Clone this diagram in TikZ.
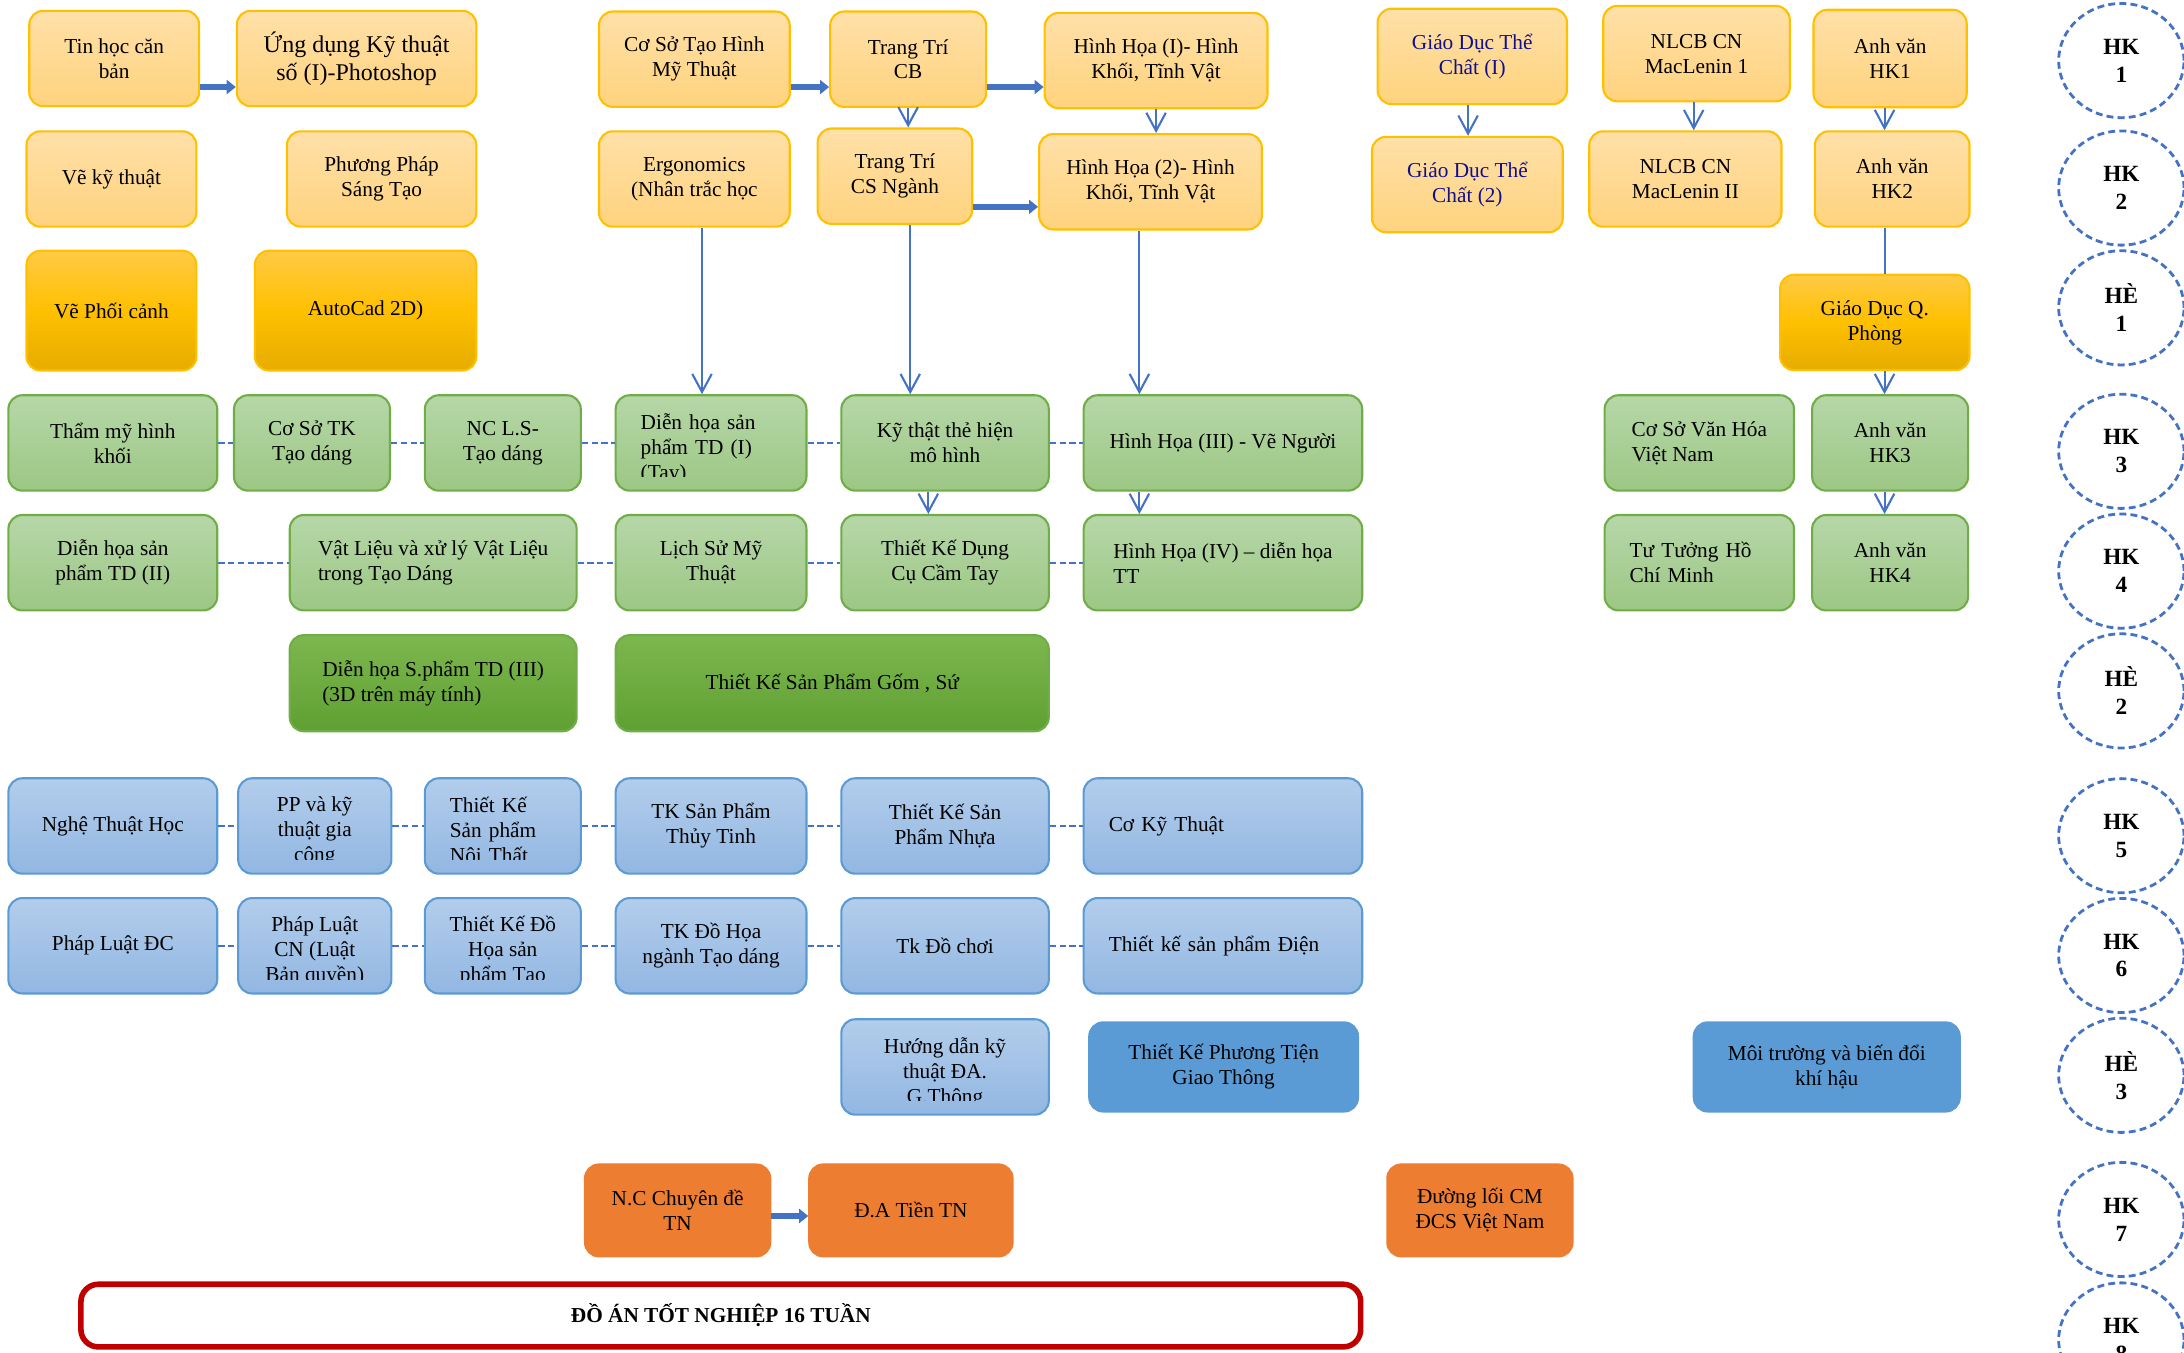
\documentclass[tikz,border=0pt]{standalone}
\usepackage{fontspec}
\setmainfont{Liberation Serif}
\usetikzlibrary{arrows.meta,shapes.geometric}

\definecolor{linkblue}{HTML}{4472C4}
\definecolor{goldline}{HTML}{FFC000}
\definecolor{otop}{HTML}{FFE0A8}
\definecolor{obot}{HTML}{FFD37E}
\definecolor{gtop}{HTML}{FFCA45}
\definecolor{gmid}{HTML}{FFC000}
\definecolor{gbot}{HTML}{E6AC00}
\definecolor{greenline}{HTML}{70AD47}
\definecolor{lgtop}{HTML}{B6D7A8}
\definecolor{lgbot}{HTML}{9CC784}
\definecolor{dgtop}{HTML}{7DB74F}
\definecolor{dgbot}{HTML}{5FA032}
\definecolor{blueline}{HTML}{5B9BD5}
\definecolor{lbtop}{HTML}{B3CDEB}
\definecolor{lbbot}{HTML}{92B7E2}
\definecolor{midblue}{HTML}{5B9BD5}
\definecolor{orangefill}{HTML}{ED7D31}
\definecolor{redline}{HTML}{C00000}
\definecolor{navytext}{HTML}{10108C}

\newcommand{\boxfont}{\fontsize{8.7}{10.2}\selectfont}
\newcommand{\bigboxfont}{\fontsize{9.8}{11.4}\selectfont}
\newcommand{\hkfont}{\fontsize{9.5}{11.4}\selectfont\bfseries}

\tikzset{
  cbox/.style={rounded corners=0.2cm, line width=0.03cm, minimum height=1.37cm, inner sep=1pt, align=center, font=\boxfont},
  obox/.style={cbox, draw=goldline, top color=otop, bottom color=obot},
  gbox/.style={cbox, draw=goldline, top color=gtop, bottom color=gbot, middle color=gmid},
  lgbox/.style={cbox, draw=greenline, top color=lgtop, bottom color=lgbot},
  dgbox/.style={cbox, draw=greenline, top color=dgtop, bottom color=dgbot},
  lbbox/.style={cbox, draw=blueline, top color=lbtop, bottom color=lbbot},
  mbbox/.style={cbox, draw=midblue, fill=midblue},
  orbox/.style={cbox, draw=orangefill, fill=orangefill},
  lbox/.style={align=left, inner xsep=0.36cm},
  cliptext/.style={font=\boxfont, inner sep=0pt, yshift=-0.08cm},
  hk/.style={ellipse, draw=linkblue, line width=0.04cm, dash pattern=on 0.1cm off 0.06cm, minimum width=1.8cm, minimum height=1.64cm, inner sep=0pt, align=center, font=\hkfont},
  barrow/.style={draw=linkblue, line width=0.08cm, -{Triangle[length=0.13cm,width=0.2cm]}},
  varrow/.style={draw=linkblue, line width=0.03cm, -{Straight Barb[length=0.26cm,width=0.28cm]}},
  dlink/.style={draw=linkblue, line width=0.035cm, dash pattern=on 0.09cm off 0.05cm}
}

\begin{document}
\begin{tikzpicture}[x=0.02cm, y=-0.02cm]
\clip (0,0) rectangle (1568,971);
\useasboundingbox (0,0) rectangle (1568,971);

% HK 1
\node[obox, minimum width=2.44cm] (tinhoc) at (82,42) {Tin học căn\\bản};
\node[obox, minimum width=3.44cm, font=\bigboxfont] (ungdung) at (256,42) {Ứng dụng Kỹ thuật\\số (I)-Photoshop};
\node[obox, minimum width=2.74cm] (cosotaohinh) at (498.5,42.5) {Cơ Sở Tạo Hình\\Mỹ Thuật};
\node[obox, minimum width=2.24cm] (trangtricb) at (652,42.5) {Trang Trí\\CB};
\node[obox, minimum width=3.2cm] (hinhhoa1) at (830,43.5) {Hình Họa (I)- Hình\\Khối, Tĩnh Vật};
\node[obox, minimum width=2.72cm, text=navytext] (gdtc1) at (1057,40.5) {Giáo Dục Thể\\Chất (I)};
\node[obox, minimum width=2.68cm] (nlcb1) at (1218,38.5) {NLCB CN\\MacLenin 1};
\node[obox, minimum width=2.2cm, minimum height=1.4cm] (anhvan1) at (1357,42) {Anh văn\\HK1};

% HK 2
\node[obox, minimum width=2.44cm] (vekythuat) at (80,128.5) {Vẽ kỹ thuật};
\node[obox, minimum width=2.72cm] (ppsangtao) at (274,128.5) {Phương Pháp\\Sáng Tạo};
\node[obox, minimum width=2.74cm] (ergonomics) at (498.5,128.5) {Ergonomics\\(Nhân trắc học};
\node[obox, minimum width=2.22cm] (trangtrics) at (642.5,126.5) {Trang Trí\\CS Ngành};
\node[obox, minimum width=3.2cm] (hinhhoa2) at (826,130.5) {Hình Họa (2)- Hình\\Khối, Tĩnh Vật};
\node[obox, minimum width=2.74cm, text=navytext] (gdtc2) at (1053.5,132.5) {Giáo Dục Thể\\Chất (2)};
\node[obox, minimum width=2.76cm] (nlcb2) at (1210,128.5) {NLCB CN\\MacLenin II};
\node[obox, minimum width=2.22cm] (anhvan2) at (1358.5,128.5) {Anh văn\\HK2};

% He 1
\node[gbox, minimum width=2.44cm, minimum height=1.72cm] (vephoicanh) at (80,223) {Vẽ Phối cảnh};
\node[gbox, minimum width=3.18cm, minimum height=1.72cm] (autocad) at (262.5,223) {AutoCad 2D)};
\node[gbox, minimum width=2.72cm] (gdqp) at (1346,231.5) {Giáo Dục Q.\\Phòng};

% HK 3
\node[lgbox, minimum width=3.0cm] (thammy) at (81,318) {Thẩm mỹ hình\\khối};
\node[lgbox, minimum width=2.24cm] (cosotk) at (224,318) {Cơ Sở TK\\Tạo dáng};
\node[lgbox, minimum width=2.24cm] (ncls) at (361,318) {NC L.S-\\Tạo dáng};
\node[lgbox, minimum width=2.74cm] (dienhoa1) at (510.5,318) {};
\node[lgbox, minimum width=2.98cm] (kythat) at (678.5,318) {Kỹ thật thẻ hiện\\mô hình};
\node[lgbox, minimum width=4.0cm] (hinhhoa3) at (878,318) {Hình Họa (III) - Vẽ Người};
\node[lgbox, align=left, minimum width=2.72cm] (cosovanhoa) at (1220,318) {Cơ Sở Văn Hóa\\Việt Nam};
\node[lgbox, minimum width=2.24cm] (anhvan3) at (1357,318) {Anh văn\\HK3};

% HK 4
\node[lgbox, minimum width=3.0cm] (dienhoa2) at (81,404) {Diễn họa sản\\phẩm TD (II)};
\node[lgbox, align=left, minimum width=4.12cm] (vatlieu) at (311,404) {Vật Liệu và xử lý Vật Liệu\\trong Tạo Dáng};
\node[lgbox, minimum width=2.74cm] (lichsu) at (510.5,404) {Lịch Sử Mỹ\\Thuật};
\node[lgbox, minimum width=2.98cm] (tkdungcu) at (678.5,404) {Thiết Kế  Dụng\\Cụ Cầm Tay};
\node[lgbox, align=left, minimum width=4.0cm] (hinhhoa4) at (878,404) {Hình Họa (IV) – diễn họa\\TT};
\node[lgbox, lbox, inner xsep=0.36cm, text width=2.0cm] (tutuong) at (1220,404) {Tư Tưởng Hồ\\Chí Minh};
\node[lgbox, minimum width=2.24cm] (anhvan4) at (1357,404) {Anh văn\\HK4};

% He 2
\node[dgbox, align=left, minimum width=4.12cm, minimum height=1.38cm] (dienhoa3) at (311,490.5) {Diễn họa S.phẩm TD (III)\\(3D trên máy tính)};
\node[dgbox, minimum width=6.22cm, minimum height=1.38cm] (gomsu) at (597.5,490.5) {Thiết Kế Sản Phẩm Gốm , Sứ};

% HK 5
\node[lbbox, minimum width=3.0cm] (nghethuat) at (81,593) {Nghệ Thuật Học};
\node[lbbox, minimum width=2.2cm] (ppkythuat) at (226,593) {};
\node[lbbox, minimum width=2.24cm] (tknoithat) at (361,593) {};
\node[lbbox, minimum width=2.74cm] (tkthuytinh) at (510.5,593) {TK Sản Phẩm\\Thủy Tinh};
\node[lbbox, minimum width=2.98cm] (tknhua) at (678.5,593) {Thiết Kế Sản\\Phẩm Nhựa};
\node[lbbox, lbox, text width=3.28cm] (cokythuat) at (878,593) {Cơ Kỹ Thuật};

% HK 6
\node[lbbox, minimum width=3.0cm] (phapluatdc) at (81,679) {Pháp Luật ĐC};
\node[lbbox, minimum width=2.2cm] (phapluatcn) at (226,679) {};
\node[lbbox, minimum width=2.24cm] (tkdohoa) at (361,679) {};
\node[lbbox, minimum width=2.74cm] (tkdohoanganh) at (510.5,679) {TK Đồ Họa\\ngành Tạo dáng};
\node[lbbox, minimum width=2.98cm] (tkdochoi) at (678.5,679) {Tk Đồ chơi};
\node[lbbox, lbox, text width=3.28cm] (tkdien) at (878,679) {Thiết kế sản phẩm Điện};

% He 3
\node[lbbox, minimum width=2.98cm] (huongdan) at (678.5,766) {};
\node[mbbox, minimum width=3.86cm, minimum height=1.28cm] (phuongtien) at (878.5,766) {Thiết Kế Phương Tiện\\Giao Thông};
\node[mbbox, minimum width=3.82cm, minimum height=1.28cm] (moitruong) at (1311.5,766) {Môi trường và biến đổi\\khí hậu};

% HK 7
\node[orbox, minimum width=2.66cm, minimum height=1.32cm] (ncchuyende) at (486.5,869) {N.C Chuyên đề\\TN};
\node[orbox, minimum width=2.92cm, minimum height=1.32cm] (datien) at (654,869) {Đ.A Tiền TN};
\node[orbox, minimum width=2.66cm, minimum height=1.32cm] (duongloi) at (1062.5,869) {Đường lối CM\\ĐCS Việt Nam};

% HK 8
\node[draw=redline, line width=0.08cm, rounded corners=0.25cm, minimum width=18.38cm, minimum height=0.9cm, font=\boxfont\bfseries] (doan) at (517.5,944.5) {ĐỒ ÁN TỐT NGHIỆP 16 TUẦN};

% chu bi cat trong o
\begin{scope}
  \clip (dienhoa1.north west) rectangle ([yshift=0.22cm]dienhoa1.south east);
  \node[cliptext, align=left, text width=2.02cm] (dienhoa1txt) at (dienhoa1) {Diễn họa sản\\phẩm TD (I)\\(Tay)};
\end{scope}
\begin{scope}
  \clip (ppkythuat.north west) rectangle ([yshift=0.22cm]ppkythuat.south east);
  \node[cliptext, align=center] (ppkythuattxt) at (ppkythuat) {PP và kỹ\\thuật gia\\công};
\end{scope}
\begin{scope}
  \clip (tknoithat.north west) rectangle ([yshift=0.22cm]tknoithat.south east);
  \node[cliptext, align=left, text width=1.52cm] (tknoithattxt) at (tknoithat) {Thiết Kế\\Sản phẩm\\Nội Thất};
\end{scope}
\begin{scope}
  \clip (phapluatcn.north west) rectangle ([yshift=0.22cm]phapluatcn.south east);
  \node[cliptext, align=center] (phapluatcntxt) at (phapluatcn) {Pháp Luật\\CN (Luật\\Bản quyền)};
\end{scope}
\begin{scope}
  \clip (tkdohoa.north west) rectangle ([yshift=0.22cm]tkdohoa.south east);
  \node[cliptext, align=center] (tkdohoatxt) at (tkdohoa) {Thiết Kế Đồ\\Họa sản\\phẩm Tạo};
\end{scope}
\begin{scope}
  \clip (huongdan.north west) rectangle ([yshift=0.22cm]huongdan.south east);
  \node[cliptext, align=center] (huongdantxt) at (huongdan) {Hướng dẫn kỹ\\thuật ĐA.\\G.Thông};
\end{scope}

% hoc ky
\foreach \s/\n/\y [count=\i] in {HK/1/43.5, HK/2/135, HÈ/1/221, HK/3/324, HK/4/410, HÈ/2/496, HK/5/600, HK/6/686, HÈ/3/772, HK/7/875.5, HK/8/962}
  \node[hk] (sem\i) at (1523,\y) {\s\\\n};

% mui ten dam
\draw[barrow] ([yshift=-0.41cm]tinhoc.east) -- ([yshift=-0.41cm]tinhoc.east -| ungdung.west);
\draw[barrow] ([yshift=-0.4cm]cosotaohinh.east) -- ([yshift=-0.4cm]cosotaohinh.east -| trangtricb.west);
\draw[barrow] ([yshift=-0.4cm]trangtricb.east) -- ([yshift=-0.4cm]trangtricb.east -| hinhhoa1.west);
\draw[barrow] ([yshift=-0.44cm]trangtrics.east) -- ([yshift=-0.44cm]trangtrics.east -| hinhhoa2.west);
\draw[barrow] ([yshift=-0.08cm]ncchuyende.east) -- ([yshift=-0.08cm]ncchuyende.east -| datien.west);

% mui ten chu V
\draw[varrow] (trangtricb.south) -- (trangtricb.south |- trangtrics.north);
\draw[varrow] (hinhhoa1.south) -- (hinhhoa1.south |- hinhhoa2.north);
\draw[varrow] ([xshift=-0.06cm]gdtc1.south) -- ([xshift=-0.06cm]gdtc1.south |- gdtc2.north);
\draw[varrow] ([xshift=-0.04cm]nlcb1.south) -- ([xshift=-0.04cm]nlcb1.south |- nlcb2.north);
\draw[varrow] ([xshift=-0.08cm]anhvan1.south) -- ([xshift=-0.08cm]anhvan1.south |- anhvan2.north);
\draw[draw=linkblue, line width=0.03cm] ([xshift=-0.1cm]anhvan2.south) -- ([xshift=-0.1cm]anhvan2.south |- gdqp.north);
\draw[varrow] ([xshift=0.14cm]gdqp.south) -- ([xshift=0.14cm]gdqp.south |- anhvan3.north);
\draw[varrow] ([xshift=-0.08cm]anhvan3.south) -- ([xshift=-0.08cm]anhvan3.south |- anhvan4.north);
\draw[varrow] ([xshift=0.11cm]ergonomics.south) -- ([xshift=0.11cm]ergonomics.south |- dienhoa1.north);
\draw[varrow] ([xshift=0.22cm]trangtrics.south) -- ([xshift=0.22cm]trangtrics.south |- kythat.north);
\draw[varrow] ([xshift=-0.16cm]hinhhoa2.south) -- ([xshift=-0.16cm]hinhhoa2.south |- hinhhoa3.north);
\draw[varrow] ([xshift=-0.24cm]kythat.south) -- ([xshift=-0.24cm]kythat.south |- tkdungcu.north);
\draw[varrow] ([xshift=-1.2cm]hinhhoa3.south) -- ([xshift=-1.2cm]hinhhoa3.south |- hinhhoa4.north);

% noi net dut
\foreach \a/\b in {thammy/cosotk, cosotk/ncls, ncls/dienhoa1, dienhoa1/kythat, kythat/hinhhoa3,
                   dienhoa2/vatlieu, vatlieu/lichsu, lichsu/tkdungcu, tkdungcu/hinhhoa4,
                   nghethuat/ppkythuat, ppkythuat/tknoithat, tknoithat/tkthuytinh, tkthuytinh/tknhua, tknhua/cokythuat,
                   phapluatdc/phapluatcn, phapluatcn/tkdohoa, tkdohoa/tkdohoanganh, tkdohoanganh/tkdochoi, tkdochoi/tkdien}
  \draw[dlink] (\a.east) -- (\b.west);

\end{tikzpicture}
\end{document}
